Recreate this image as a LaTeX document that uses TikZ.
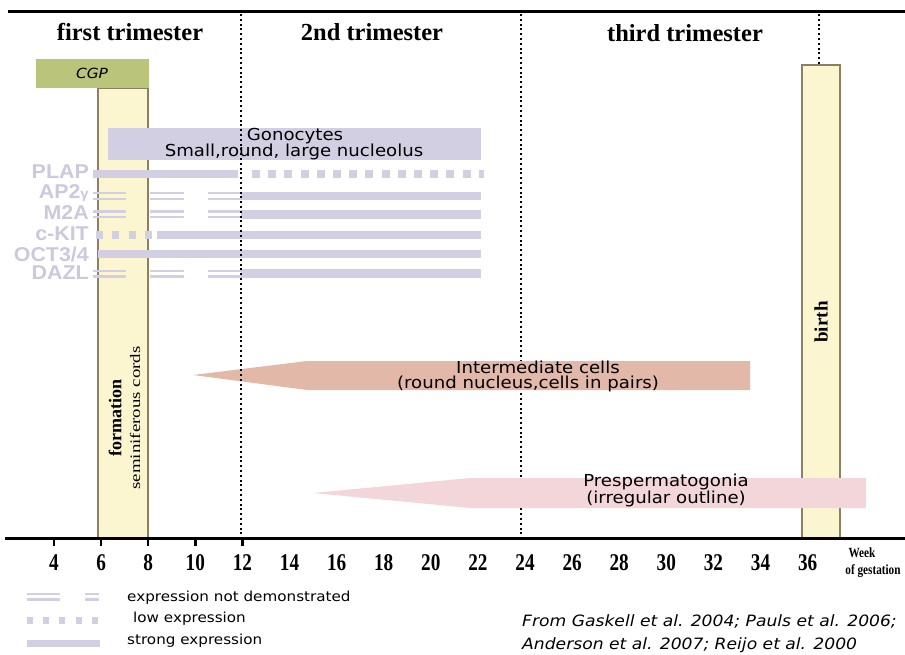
\documentclass[tikz,border=0pt]{standalone}
\usepackage{fontspec}
\setmainfont{Liberation Serif}
\newfontfamily\comicf[FakeStretch=1.1]{DejaVu Sans}
\newfontfamily\labf[FakeStretch=1.07]{Liberation Sans}
\newfontfamily\axisf[FakeStretch=0.8]{Liberation Serif}
\definecolor{cgpgreen}{RGB}{186,196,122}
\definecolor{formfill}{RGB}{251,245,208}
\definecolor{formedge}{RGB}{140,128,98}
\definecolor{lav}{RGB}{211,207,226}
\definecolor{lavtext}{RGB}{204,200,222}
\definecolor{interc}{RGB}{226,184,168}
\definecolor{presp}{RGB}{243,214,217}
\newcommand\dblseg[3]{%
  \draw[dblline] (#1,#3-2.8) -- (#2,#3-2.8);
  \draw[dblline] (#1,#3+2.8) -- (#2,#3+2.8);}
\begin{document}
\begin{tikzpicture}[x=1pt,y=-1pt,
  hdr/.style={font=\fontsize{24.5}{24.5}\selectfont\bfseries},
  dotline/.style={black, line width=2.2pt, dash pattern=on 2pt off 2.8pt},
  frame/.style={draw=formedge, fill=formfill, line width=2.5pt},
  solidbar/.style={lav, line width=8.5pt},
  sqbar/.style={lav, line width=8pt, dash pattern=on 8pt off 8.2pt},
  dblline/.style={lav, line width=2.4pt},
  mk/.style={font=\labf\fontsize{20}{20}\selectfont\bfseries, text=lavtext, anchor=east, inner sep=0pt},
  comic/.style={font=\comicf\fontsize{16.5}{16.5}\selectfont, inner sep=0pt},
  legtext/.style={font=\comicf\fontsize{13.8}{13.8}\selectfont, anchor=west, inner sep=0pt},
  cite/.style={font=\comicf\itshape\fontsize{15.6}{15.6}\selectfont, anchor=west, inner sep=0pt},
  axlab/.style={font=\axisf\bfseries\fontsize{24}{24}\selectfont, inner sep=0pt},
  axtick/.style={black, line width=2.5pt},
  rule/.style={black, line width=3pt}
]
\useasboundingbox (0,0) rectangle (905,655);

% top rule
\draw[rule] (8,12) -- (905,12);
% dotted lines behind
\draw[dotline] (521,14) -- (521,536);
\draw[dotline] (819,14) -- (819,64);

% headers
\node[hdr] (h1) at (130,32) {first trimester};
\node[hdr] (h2) at (372,32) {2nd trimester};
\node[hdr] (h3) at (685,33) {third trimester};

% formation bar and CGP
\draw[frame] (98,88) rectangle (148,538);
\fill[cgpgreen] (36,59) rectangle (149,88);
\node[font=\comicf\itshape\fontsize{14}{14}\selectfont] (cgp) at (92,73) {CGP};
\node[rotate=90, font=\fontsize{18}{18}\selectfont\bfseries] (form) at (115,418) {formation};
\node[rotate=90, font=\fontsize{14.5}{14.5}\selectfont] (semi) at (135,418) {\scalebox{1.3}[1]{seminiferous cords}};

% birth bar
\draw[frame] (802,65) rectangle (840,538);
\node[rotate=90, font=\fontsize{19}{19}\selectfont\bfseries] (birth) at (821,322) {birth};

% gonocytes box
\fill[lav] (108,128) rectangle (481,160);
\node[comic] (gon1) at (295,136) {Gonocytes};
\node[comic] (gon2) at (294,152) {Small,round, large nucleolus};

% marker labels
\node[mk] (plap) at (89,172) {PLAP};
\node[mk] (ap2) at (89,193) {AP2{\fontsize{14}{14}\selectfont γ}};
\node[mk] (m2a) at (89,213) {M2A};
\node[mk] (ckit) at (89,234) {c-KIT};
\node[mk] (oct) at (89,254) {OCT3/4};
\node[mk] (dazl) at (89,273) {DAZL};

% PLAP
\draw[solidbar] (93,174) -- (238,174);
\draw[sqbar] (252,174) -- (484,174);
% AP2gamma
\dblseg{93}{126}{196}
\dblseg{150}{184}{196}
\dblseg{208}{241}{196}
\draw[solidbar] (241,196) -- (481,196);
% M2A
\dblseg{93}{126}{214.5}
\dblseg{150}{184}{214.5}
\dblseg{208}{241}{214.5}
\draw[solidbar] (241,214.5) -- (481,214.5);
% c-KIT
\draw[lav, line width=8pt, dash pattern=on 7pt off 9.3pt] (96,235) -- (154,235);
\draw[solidbar] (157,235) -- (481,235);
% OCT3/4
\draw[solidbar] (98,254) -- (481,254);
% DAZL
\dblseg{93}{126}{273.5}
\dblseg{150}{184}{273.5}
\dblseg{208}{241}{273.5}
\draw[solidbar] (241,273.5) -- (481,273.5);

% intermediate cells arrow
\fill[interc] (193,375) -- (307,361) -- (750,361) -- (750,390) -- (307,390) -- cycle;
\node[comic] (int1) at (538,367) {Intermediate cells};
\node[comic] (int2) at (528,384) {(round nucleus,cells in pairs)};

% prespermatogonia arrow
\fill[presp] (313,493) -- (470,478) -- (866,478) -- (866,508) -- (470,508) -- cycle;
\node[comic] (pre1) at (666,482) {Prespermatogonia};
\node[comic] (pre2) at (666,499) {(irregular outline)};

% dotted line on top
\draw[dotline] (241,14) -- (241,536);

% axis
\draw[rule] (5,538) -- (905,538);
\foreach \xx in {54,101,148,195.5,242.5}
  \draw[axtick] (\xx,538) -- (\xx,546);
\foreach \w in {4,6,...,36}
  \node[axlab] (wk\w) at ({54+(\w-4)*23.55},563) {\w};
\node[font=\axisf\bfseries\fontsize{14}{14}\selectfont, inner sep=0pt] (week) at (862,553) {Week};
\node[font=\axisf\bfseries\fontsize{14}{14}\selectfont, inner sep=0pt] (gest) at (873,571) {of gestation};

% legend
\dblseg{27}{60}{596.8}
\dblseg{85}{99}{596.8}
\draw[lav, line width=7pt, dash pattern=on 6pt off 10.2pt] (27,620.5) -- (98,620.5);
\draw[lav, line width=7pt] (27,643.5) -- (100,643.5);
\node[legtext] (leg1) at (127,598) {expression not demonstrated};
\node[legtext] (leg2) at (133,619) {low expression};
\node[legtext] (leg3) at (127,641) {strong expression};

% citation
\node[cite] (cite1) at (522,621) {From Gaskell et al. 2004; Pauls et al. 2006;};
\node[cite] (cite2) at (522,645) {Anderson et al. 2007; Reijo et al. 2000};
\end{tikzpicture}
\end{document}
